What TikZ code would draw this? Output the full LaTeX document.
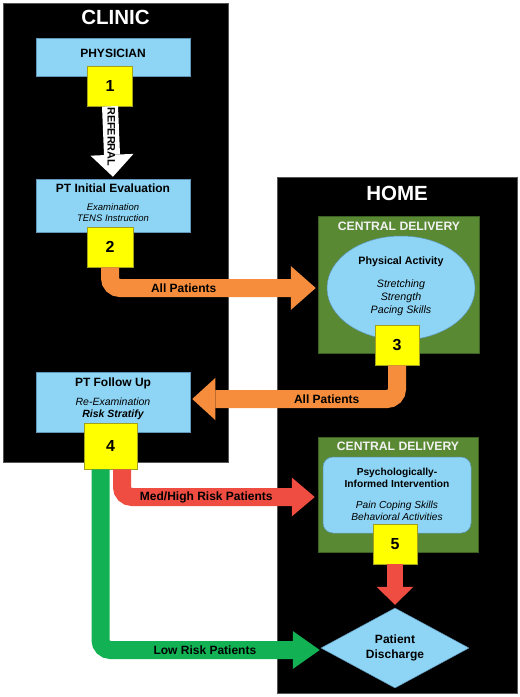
\documentclass[tikz,border=0pt]{standalone}
\usepackage{fontspec}
\setmainfont{Liberation Sans}
\usetikzlibrary{shapes.geometric,arrows.meta,positioning}

\definecolor{skyblue}{RGB}{142,213,245}
\definecolor{skyedge}{RGB}{95,150,185}
\definecolor{boxyellow}{RGB}{255,255,0}
\definecolor{yellowedge}{RGB}{160,160,30}
\definecolor{deliverygreen}{RGB}{90,137,52}
\definecolor{deliveryedge}{RGB}{60,95,35}
\definecolor{orangeflow}{RGB}{245,141,60}
\definecolor{redflow}{RGB}{240,77,66}
\definecolor{greenflow}{RGB}{18,178,84}
\definecolor{paneledge}{RGB}{85,85,85}

\newcommand{\boxhead}{\fontsize{12}{14}\selectfont\bfseries\upshape}

\tikzstyle{panel} = [rectangle, fill=black, draw=paneledge, line width=0.8pt]
\tikzstyle{paneltitle} = [inner sep=0pt, text=white, font=\fontsize{20.5}{24}\selectfont\bfseries]
\tikzstyle{bluebox} = [rectangle, fill=skyblue, draw=skyedge, line width=0.5pt, minimum width=154pt]
\tikzstyle{delivery} = [rectangle, fill=deliverygreen, draw=deliveryedge, line width=0.5pt, minimum width=161pt]
\tikzstyle{deliverytitle} = [inner sep=0pt, text=white!95!black, font=\fontsize{12.2}{14}\selectfont\bfseries]
\tikzstyle{numbox} = [rectangle, fill=boxyellow, draw=yellowedge, line width=0.6pt, minimum width=45pt, minimum height=40pt, font=\fontsize{16}{19}\selectfont\bfseries]
\tikzstyle{boxtitle} = [inner sep=0pt, font=\boxhead]
\tikzstyle{boxtext} = [inner sep=0pt, align=center]
\tikzstyle{flow} = [line width=18pt, rounded corners=10pt]
\tikzstyle{flowlabel} = [inner sep=0pt, text=black, font=\fontsize{12}{14}\selectfont\bfseries]

\begin{document}
\begin{tikzpicture}[x=1pt, y=-1pt]
\useasboundingbox (0,0) rectangle (520,697);
\fill [white] (0,0) rectangle (520,697);

% panels
\node (clinic) [panel, minimum width=225pt, minimum height=459pt] at (115.5,232.5) {};
\node (home) [panel, minimum width=240pt, minimum height=516pt] at (397,435.5) {};
\node (clinictitle) [paneltitle] at (115.5,17) {CLINIC};
\node (hometitle) [paneltitle] at (397,193) {HOME};

% clinic
\node (physician) [bluebox, minimum height=38pt] at (113,57) {};
\node (physiciantext) [boxtitle, below=11pt of physician.north] {PHYSICIAN};
\node (eval) [bluebox, minimum height=53pt] at (113,205.5) {};
\node (evaltext) [boxtext, below=5.3pt of eval.north, font=\fontsize{9.5}{11}\selectfont\itshape] {{\boxhead PT Initial Evaluation}\\[6.5pt]Examination\\TENS Instruction};
\node (followup) [bluebox, minimum height=60pt] at (113,402) {};
\node (followuptext) [boxtext, below=6.3pt of followup.north, font=\fontsize{10.5}{12.2}\selectfont\itshape] {{\boxhead PT Follow Up}\\[6.3pt]Re-Examination\\{\bfseries Risk Stratify}};

\node (n1) [numbox] at (110,86) {1};
\node (n2) [numbox, minimum width=46pt] at (110,247) {2};
\node (n4) [numbox, minimum width=53pt, minimum height=46pt] at (110.5,446) {4};

% home
\node (delivery1) [delivery, minimum height=137pt] at (399,284.5) {};
\node (delivery1text) [deliverytitle, below=5.6pt of delivery1.north] {CENTRAL DELIVERY};
\node (activity) [ellipse, fill=skyblue, draw=skyedge, line width=0.5pt, minimum width=148pt, minimum height=104pt] at (401,288) {};
\node (activitytext) [boxtext, below=20.7pt of activity.north, font=\fontsize{10.7}{13}\selectfont\itshape] {{\bfseries\upshape Physical Activity}\\[9.6pt]Stretching\\Strength\\Pacing Skills};
\node (n3) [numbox, minimum width=44pt] at (397,345) {3};

\node (delivery2) [delivery, minimum width=160pt, minimum height=115pt] at (398,494.5) {};
\node (delivery2text) [deliverytitle, below=4.6pt of delivery2.north] {CENTRAL DELIVERY};
\node (psych) [bluebox, rounded corners=10pt, minimum width=148pt, minimum height=76pt] at (397,495) {};
\node (psychtext) [boxtext, below=10.8pt of psych.north, font=\fontsize{10.2}{12.5}\selectfont\itshape] {{\bfseries\upshape Psychologically-}\\{\bfseries\upshape Informed Intervention}\\[8.3pt]Pain Coping Skills\\Behavioral Activities};
\node (n5) [numbox, minimum width=44pt] at (395,544) {5};
\node (discharge) [diamond, aspect=1.85, fill=skyblue, draw=skyedge, line width=0.5pt, minimum width=148pt, minimum height=80pt, inner sep=0pt, align=center, font=\fontsize{12}{15}\selectfont\bfseries] at (395,648) {Patient\\Discharge};

%arrows
\draw [flow, white, line width=16pt, -{Triangle[width=43pt,length=22pt,line width=0pt]}, shorten >=2pt] (n1.south) -- node (referral) [flowlabel, rotate=-90, pos=0.42, font=\fontsize{10.8}{13}\selectfont\bfseries] {REFERRAL} (eval.north);
\draw [flow, orangeflow, -{Triangle[width=44pt,length=25pt,line width=0pt]}, shorten >=11pt] (n2.south) |- node (allpatients1) [flowlabel, pos=0.67] {All Patients} (activity.west);
\draw [flow, orangeflow, -{Triangle[width=42pt,length=23pt,line width=0pt]}, shorten >=2pt] (n3.south) |- node (allpatients2) [flowlabel, pos=0.67] {All Patients} ([yshift=3pt]followup.east);
\draw [flow, redflow, -{Triangle[width=39pt,length=23pt,line width=0pt]}, shorten >=8pt] ([xshift=11.5pt]n4.south) |- node (medhigh) [flowlabel, pos=0.71] {Med/High Risk Patients} ([yshift=-2pt]psych.west);
\draw [flow, greenflow, -{Triangle[width=38pt,length=27pt,line width=0pt]}, shorten >=1pt] ([xshift=-10pt]n4.south) |- node (lowrisk) [flowlabel, pos=0.737] {Low Risk Patients} ([yshift=-2pt]discharge.west);
\draw [flow, redflow, line width=16pt, -{Triangle[width=37pt,length=18pt,line width=0pt]}, shorten >=3pt] (n5.south) -- (discharge.north);
\end{tikzpicture}
\end{document}
